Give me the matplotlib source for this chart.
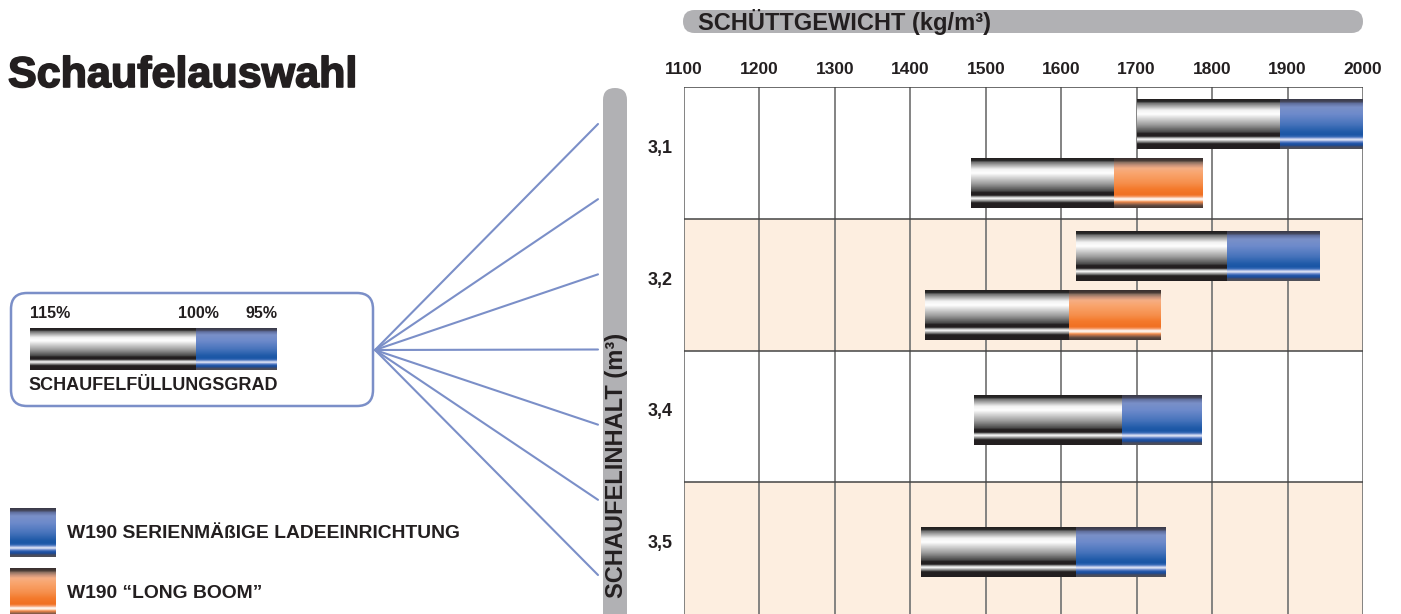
import numpy as np
import matplotlib
matplotlib.use('Agg')
import matplotlib.pyplot as plt
import matplotlib.patheffects as pe
from matplotlib.patches import FancyBboxPatch, Rectangle
from matplotlib.colors import to_rgb

plt.rcParams['font.family'] = ['Liberation Sans', 'DejaVu Sans']
plt.rcParams['font.weight'] = 'bold'

INK = '#231f20'
LINE_BLUE = '#7b8fc8'
PEACH = '#fdeee0'
PILL = '#b1b1b4'
GRID = '#7a7a7a'
BOLD = dict(fontweight='bold', color=INK)

# data
sizes = ['3,1', '3,2', '3,4', '3,5']
density_ticks = [1100, 1200, 1300, 1400, 1500, 1600, 1700, 1800, 1900, 2000]
std_start = [1700, 1620, 1485, 1414]   # 115 % filling
std_full = [1890, 1820, 1681, 1619]    # 100 % filling
std_end = [2000, 1942, 1787, 1737]     # 95 % filling
lb_start = [1480, 1420, None, None]
lb_full = [1670, 1610, None, None]
lb_end = [1787, 1731, None, None]
fill_labels = ['115%', '100%', '95%']
legend_labels = ['W190 SERIENMÄßIGE LADEEINRICHTUNG', 'W190 \u201cLONG BOOM\u201d']

# stripe profiles of the bars (top -> bottom)
GRAY_STOPS = [(0.0, '#231f20'), (0.05, '#2a2a2a'), (0.07, '#6a6a6a'), (0.15, '#b4b4b4'),
              (0.22, '#f2f2f2'), (0.30, '#ffffff'), (0.36, '#e2e2e2'), (0.52, '#9a9a9a'),
              (0.66, '#4a4a4a'), (0.69, '#231f20'), (0.75, '#231f20'), (0.77, '#8c8c8c'),
              (0.81, '#ffffff'), (0.84, '#bdbdbd'), (0.88, '#5a5a5a'), (0.90, '#231f20'),
              (1.0, '#231f20')]
BLUE_STOPS = [(0.0, '#3a3a48'), (0.05, '#45485e'), (0.08, '#5f6e9e'), (0.16, '#7a90c8'),
              (0.30, '#6d8acb'), (0.50, '#4874bc'), (0.66, '#1f5aa8'), (0.72, '#1a56a6'),
              (0.76, '#3a6cb8'), (0.79, '#9fb2e0'), (0.82, '#eef1fa'), (0.85, '#7e98d4'),
              (0.89, '#2458aa'), (0.93, '#1a4a98'), (0.96, '#454a60'), (1.0, '#505058')]
ORANGE_STOPS = [(0.0, '#3a3030'), (0.05, '#4a3c36'), (0.08, '#8a7060'), (0.14, '#c8927a'),
                (0.20, '#f5ae84'), (0.30, '#f9a56e'), (0.50, '#f68f4c'), (0.62, '#f47a2c'),
                (0.74, '#f07022'), (0.78, '#f7a070'), (0.82, '#ffffff'), (0.85, '#fde0c8'),
                (0.88, '#f58a48'), (0.92, '#a0684a'), (0.96, '#5a463e'), (1.0, '#4a3a34')]


def profile(stops, n=80):
    pos = np.array([s[0] for s in stops])
    cols = np.array([to_rgb(s[1]) for s in stops])
    t = np.linspace(0, 1, n)
    img = np.stack([np.interp(t, pos, cols[:, k]) for k in range(3)], axis=1)
    return img[:, None, :]


GRAY_IMG = profile(GRAY_STOPS)
BLUE_IMG = profile(BLUE_STOPS)
ORANGE_IMG = profile(ORANGE_STOPS)


def strip(ax, x0, x1, y0, y1, img, z=3):
    # y0 = visual top, y1 = visual bottom (both axes are inverted)
    ax.imshow(img, extent=(x0, x1, y1, y0), origin='upper', aspect='auto',
              interpolation='bilinear', zorder=z)


def fill_bar(ax, start, full, end, yc, h, color_img):
    strip(ax, start, full, yc - h / 2, yc + h / 2, GRAY_IMG)
    strip(ax, full, end, yc - h / 2, yc + h / 2, color_img)


fig = plt.figure(figsize=(14.01, 6.14), dpi=100)

# ---- decorative layer in pixel coordinates
bg = fig.add_axes([0, 0, 1, 1])
bg.set_xlim(0, 1401)
bg.set_ylim(614, 0)
bg.axis('off')

bg.text(8, 87, 'Schaufelauswahl', fontsize=31, va='baseline', ha='left',
        path_effects=[pe.withStroke(linewidth=1.2, foreground=INK)], **BOLD)

# top pill
bg.add_patch(FancyBboxPatch((683, 10), 680, 23, boxstyle='round,pad=0,rounding_size=11.5',
                            fc=PILL, ec='none'))
bg.text(698, 22, 'SCHÜTTGEWICHT (kg/m³)', fontsize=17, va='center', ha='left', **BOLD)

# vertical pill
bg.add_patch(FancyBboxPatch((603, 88), 24, 560, boxstyle='round,pad=0,rounding_size=12',
                            fc=PILL, ec='none'))
bg.text(616, 598, 'SCHAUFELINHALT (m³)', fontsize=17, rotation=90,
        ha='center', va='bottom', **BOLD)

# fan lines
for ye in np.linspace(124, 575, 7):
    bg.plot([375, 598], [350, ye], color=LINE_BLUE, lw=1.5, solid_capstyle='round')

# filling-degree legend box
bg.add_patch(FancyBboxPatch((11, 293), 362, 113, boxstyle='round,pad=0,rounding_size=16',
                            fc='white', ec=LINE_BLUE, lw=1.8, zorder=2))
strip(bg, 30, 196, 328, 370, GRAY_IMG)
strip(bg, 196, 277, 328, 370, BLUE_IMG)
bg.text(30, 313, fill_labels[0], fontsize=11.5, ha='left', va='center', **BOLD)
bg.text(198, 313, fill_labels[1], fontsize=11.5, ha='center', va='center', **BOLD)
bg.text(277, 313, fill_labels[2], fontsize=11.5, ha='right', va='center', **BOLD)
bg.text(28, 386, 'SCHAUFELFÜLLUNGSGRAD', fontsize=13, ha='left', va='center', **BOLD)

# series legend
strip(bg, 10, 56, 508, 557, BLUE_IMG)
strip(bg, 10, 56, 568, 617, ORANGE_IMG)
bg.text(67, 533, legend_labels[0], fontsize=13.9, ha='left', va='center', **BOLD)
bg.text(67, 593, legend_labels[1], fontsize=13.9, ha='left', va='center', **BOLD)
bg.set_xlim(0, 1401)
bg.set_ylim(614, 0)

# ---- chart
ax = fig.add_axes([684 / 1401, 0, 679 / 1401, 527 / 614])
ax.set_facecolor('white')
for i in range(len(sizes)):
    if i % 2 == 1:
        ax.add_patch(Rectangle((1100, i), 900, 1, fc=PEACH, ec='none', zorder=0))

bh = 0.372
for i in range(len(sizes)):
    if lb_start[i] is None:
        fill_bar(ax, std_start[i], std_full[i], std_end[i], i + 0.535, bh, BLUE_IMG)
    else:
        fill_bar(ax, std_start[i], std_full[i], std_end[i], i + 0.285, bh, BLUE_IMG)
        fill_bar(ax, lb_start[i], lb_full[i], lb_end[i], i + 0.735, bh, ORANGE_IMG)

for x in density_ticks:
    ax.axvline(x, color=GRID, lw=1.3, zorder=1)
for i in range(len(sizes)):
    ax.axhline(i, color='#444444', lw=1.1, zorder=1)

ax.set_xlim(1100, 2000)
ax.set_ylim(len(sizes), 0)
ax.xaxis.set_ticks_position('top')
ax.set_xticks(density_ticks)
ax.set_xticklabels([str(t) for t in density_ticks], fontweight='bold')
ax.set_yticks([i + 0.45 for i in range(len(sizes))])
ax.set_yticklabels(sizes, fontweight='bold')
ax.tick_params(axis='x', length=0, pad=7, labelsize=12.5, labelcolor=INK)
ax.tick_params(axis='y', length=0, pad=8, labelsize=13, labelcolor=INK)
for s in ax.spines.values():
    s.set_visible(False)

fig.savefig('out.png', dpi=100)
